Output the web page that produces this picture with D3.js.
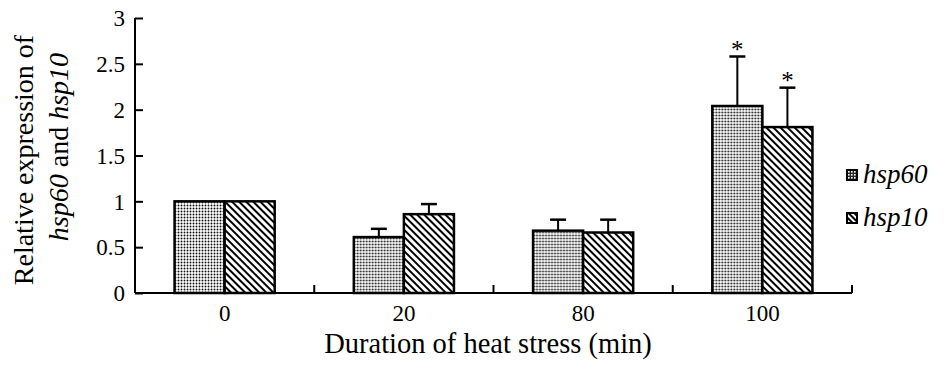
<!DOCTYPE html>
<html>
  <head>
    <meta charset="utf-8">
    <title>hsp60 / hsp10</title>
    <script src="https://d3js.org/d3.v7.min.js"></script>
  </head>
  <body style="margin:0; background:#fff;">
    <div id="chart"></div>
    <script>
      const categories = ["0", "20", "80", "100"];
      const seriesNames = ["hsp60", "hsp10"];
      const hsp60 = [1.0, 0.61, 0.68, 2.04];
      const hsp60Err = [0, 0.09, 0.12, 0.54];
      const hsp10 = [1.0, 0.86, 0.66, 1.81];
      const hsp10Err = [0, 0.11, 0.14, 0.43];
      const hsp60Star = [false, false, false, true];
      const hsp10Star = [false, false, false, true];
      const yTicks = [0, 0.5, 1, 1.5, 2, 2.5, 3];

      const width = 945, height = 370;
      const margin = {top: 18, right: 93, bottom: 77, left: 135};
      const FONT = "Liberation Serif";

      const svg = d3.select("#chart").append("svg")
                    .attr("width", width)
                    .attr("height", height)
                    .attr("font-family", FONT);

      // patterns
      const defs = svg.append("defs");
      const dots = defs.append("pattern")
                       .attr("id", "dots")
                       .attr("patternUnits", "userSpaceOnUse")
                       .attr("width", 3).attr("height", 3);
      dots.append("rect").attr("width", 3).attr("height", 3).attr("fill", "#fff");
      dots.append("circle").attr("cx", 1.5).attr("cy", 1.5).attr("r", 0.95).attr("fill", "#111");

      const hatch = defs.append("pattern")
                        .attr("id", "hatch")
                        .attr("patternUnits", "userSpaceOnUse")
                        .attr("width", 5).attr("height", 5)
                        .attr("patternTransform", "rotate(-45)");
      hatch.append("rect").attr("width", 5).attr("height", 5).attr("fill", "#fff");
      hatch.append("line").attr("x1", 1).attr("x2", 1).attr("y1", 0).attr("y2", 5)
           .attr("stroke", "#000").attr("stroke-width", 2);

      const hatchBig = defs.append("pattern")
                           .attr("id", "hatchBig")
                           .attr("patternUnits", "userSpaceOnUse")
                           .attr("width", 4).attr("height", 4)
                           .attr("patternTransform", "rotate(-45)");
      hatchBig.append("rect").attr("width", 4).attr("height", 4).attr("fill", "#fff");
      hatchBig.append("line").attr("x1", 1).attr("x2", 1).attr("y1", 0).attr("y2", 4)
              .attr("stroke", "#000").attr("stroke-width", 2);

      const dotsBig = defs.append("pattern")
                          .attr("id", "dotsBig")
                          .attr("patternUnits", "userSpaceOnUse")
                          .attr("width", 3).attr("height", 3);
      dotsBig.append("rect").attr("width", 3).attr("height", 3).attr("fill", "#222");
      dotsBig.append("rect").attr("x", 1).attr("y", 1).attr("width", 1.6).attr("height", 1.6).attr("fill", "#fff");

      const fills = ["url(#dots)", "url(#hatch)"];

      // scales
      const x = d3.scaleBand()
                  .domain(categories)
                  .range([margin.left, width - margin.right])
                  .paddingInner(0).paddingOuter(0);
      const x1 = d3.scaleBand()
                   .domain(seriesNames)
                   .range([0, x.bandwidth()])
                   .paddingInner(0).paddingOuter(0.79);
      const y = d3.scaleLinear()
                  .domain([0, 3])
                  .range([height - margin.bottom, margin.top]);

      // y axis
      const yAxis = svg.append("g")
                       .attr("transform", `translate(${margin.left},0)`)
                       .call(d3.axisRight(y).tickValues(yTicks).tickSize(8).tickFormat(d => d));
      yAxis.attr("font-family", FONT).attr("font-size", 23);
      yAxis.select(".domain").attr("stroke", "#000").attr("stroke-width", 2)
           .attr("d", `M0,${y(3)}V${y(0)}`);
      yAxis.selectAll(".tick line").attr("stroke", "#000").attr("stroke-width", 2);
      yAxis.selectAll(".tick text")
           .attr("x", -10).attr("dy", "0.34em").attr("text-anchor", "end")
           .attr("fill", "#000")
           .attr("font-size", 23).attr("font-family", FONT);

      // bars
      const data = categories.map((c, i) => ({
        cat: c,
        vals: [
          {s: "hsp60", v: hsp60[i], e: hsp60Err[i], star: hsp60Star[i], k: 0},
          {s: "hsp10", v: hsp10[i], e: hsp10Err[i], star: hsp10Star[i], k: 1}
        ]
      }));

      const groups = svg.selectAll("g.grp")
                        .data(data)
                        .join("g")
                        .attr("class", "grp")
                        .attr("transform", d => `translate(${x(d.cat)},0)`);

      // error bars
      const errs = groups.selectAll("g.err")
                         .data(d => d.vals.filter(v => v.e > 0))
                         .join("g").attr("class", "err");
      errs.append("line")
          .attr("x1", d => x1(d.s) + x1.bandwidth() / 2)
          .attr("x2", d => x1(d.s) + x1.bandwidth() / 2)
          .attr("y1", d => y(d.v))
          .attr("y2", d => y(d.v + d.e))
          .attr("stroke", "#000").attr("stroke-width", 2);
      errs.append("line")
          .attr("x1", d => x1(d.s) + x1.bandwidth() / 2 - 8)
          .attr("x2", d => x1(d.s) + x1.bandwidth() / 2 + 8)
          .attr("y1", d => y(d.v + d.e))
          .attr("y2", d => y(d.v + d.e))
          .attr("stroke", "#000").attr("stroke-width", 2.5);
      errs.filter(d => d.star)
          .append("text")
          .attr("x", d => x1(d.s) + x1.bandwidth() / 2)
          .attr("y", d => y(d.v + d.e) + 1)
          .attr("text-anchor", "middle")
          .attr("font-size", 25)
          .attr("font-family", FONT)
          .text("*");

      groups.selectAll("rect.bar")
            .data(d => d.vals)
            .join("rect")
            .attr("class", "bar")
            .attr("x", d => x1(d.s))
            .attr("y", d => y(d.v))
            .attr("width", x1.bandwidth())
            .attr("height", d => y(0) - y(d.v))
            .attr("fill", d => fills[d.k])
            .attr("stroke", "#000")
            .attr("stroke-width", 2.5);

      // x axis
      const xAxis = svg.append("g")
                       .attr("transform", `translate(0,${y(0)})`);
      xAxis.append("line")
           .attr("x1", margin.left).attr("x2", width - margin.right)
           .attr("y1", 0).attr("y2", 0)
           .attr("stroke", "#000").attr("stroke-width", 2);
      xAxis.selectAll("line.sep")
           .data(categories)
           .join("line")
           .attr("class", "sep")
           .attr("x1", d => x(d) + x.bandwidth()).attr("x2", d => x(d) + x.bandwidth())
           .attr("y1", 0).attr("y2", -8)
           .attr("stroke", "#000").attr("stroke-width", 2);
      xAxis.selectAll("text")
           .data(categories)
           .join("text")
           .attr("x", d => x(d) + x.bandwidth() / 2)
           .attr("y", 28)
           .attr("text-anchor", "middle")
           .attr("font-size", 23)
           .attr("font-family", FONT)
           .text(d => d);

      // axis titles
      svg.append("text")
         .attr("x", 488)
         .attr("y", 353)
         .attr("text-anchor", "middle")
         .attr("font-size", 28.5)
         .attr("font-family", FONT)
         .text("Duration of heat stress (min)");

      const yTitle = svg.append("text")
                        .attr("transform", "rotate(-90)")
                        .attr("text-anchor", "middle")
                        .attr("font-size", 28)
                        .attr("font-family", FONT);
      yTitle.append("tspan").attr("x", -160).attr("y", 33).text("Relative expression of");
      const l2 = yTitle.append("tspan").attr("x", -147).attr("y", 68);
      l2.append("tspan").attr("font-style", "italic").text("hsp60");
      l2.append("tspan").text(" and ");
      l2.append("tspan").attr("font-style", "italic").text("hsp10");

      // legend
      const legend = svg.append("g").attr("transform", "translate(847,170)");
      const li = legend.selectAll("g")
                       .data(seriesNames)
                       .join("g")
                       .attr("transform", (d, i) => `translate(0,${i * 43})`);
      li.append("rect")
        .attr("x", 0).attr("y", 0).attr("width", 10).attr("height", 10)
        .attr("fill", (d, i) => i === 0 ? "url(#dotsBig)" : "url(#hatchBig)")
        .attr("stroke", "#000").attr("stroke-width", 2);
      li.append("text")
        .attr("x", 16).attr("y", 13)
        .attr("font-size", 27)
        .attr("font-style", "italic")
        .attr("font-family", FONT)
        .text(d => d);
    </script>
  </body>
</html>
